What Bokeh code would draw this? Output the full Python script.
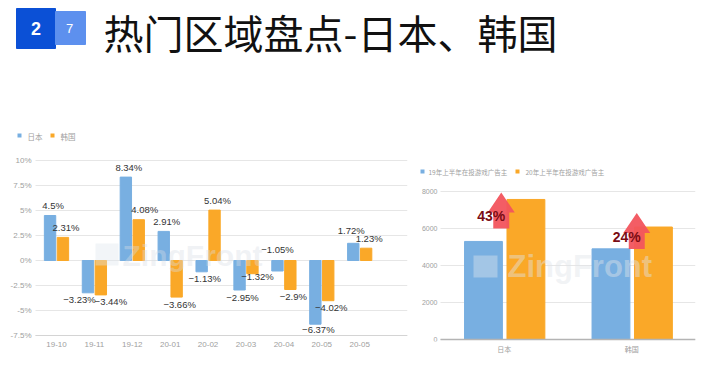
from bokeh.plotting import figure
from bokeh.layouts import column, row
from bokeh.models import (ColumnDataSource, LabelSet, Label, BoxAnnotation,
                          FixedTicker, Range1d, LinearAxis)
from bokeh.embed import file_html
from bokeh.resources import INLINE
from bokeh.core.properties import value

# ---------------- data ----------------
months = ["19-10", "19-11", "19-12", "20-01", "20-02", "20-03", "20-04", "20-05", "20-05"]
japan = [4.5, -3.23, 8.34, 2.91, -1.13, -2.95, -1.05, -6.37, 1.72]
korea = [2.31, -3.44, 4.08, -3.66, 5.04, -1.32, -2.9, -4.02, 1.23]
left_series = ["日本", "韩国"]
left_ticks = [-7.5, -5, -2.5, 0, 2.5, 5, 7.5, 10]
left_tick_labels = ["-7.5%", "-5%", "-2.5%", "0%", "2.5%", "5%", "7.5%", "10%"]

countries = ["日本", "韩国"]
adv_2019 = [5300, 4900]
adv_2020 = [7570, 6080]
growth_labels = ["43%", "24%"]
right_series = ["19年上半年在投游戏广告主", "20年上半年在投游戏广告主"]
right_ticks = [0, 2000, 4000, 6000, 8000]

title_text = "热门区域盘点-日本、韩国"
badge_texts = ["2", "7"]

# ---------------- style ----------------
BLUE = "#78afe1"
ORANGE = "#faa828"
GRID = "#e6e6e6"
TICK_TXT = "#a0a0a0"
NUM = "Liberation Sans"
CJK = "Noto Sans CJK SC"
NUM_FONT = value(NUM)
CJK_FONT = value(CJK)

# shared vertical geometry of the two chart panels (pixels inside each figure)
FIG_H = 256
B_TOP, B_BOT = 5, 35
FRAME_H = FIG_H - B_TOP - B_BOT


def style_axis(ax, size, font, standoff):
    ax.major_tick_line_color = None
    ax.minor_tick_line_color = None
    ax.major_tick_out = 0
    ax.major_tick_in = 0
    ax.axis_line_color = None
    ax.major_label_text_font = font
    ax.major_label_text_font_size = size
    ax.major_label_text_color = TICK_TXT
    ax.major_label_standoff = standoff


# ---------------- header ----------------
hdr = figure(width=708, height=120, x_range=(0, 708), y_range=(120, 0),
             toolbar_location=None, output_backend="svg",
             x_axis_location=None, y_axis_location=None, min_border=0)
hdr.grid.visible = False
hdr.outline_line_color = None
hdr.quad(left=[16], right=[55], top=[8], bottom=[48], color="#0b50d6")
hdr.quad(left=[55], right=[85], top=[11], bottom=[44], color="#5d90ee")
hdr.text(x=[35.5], y=[28], text=[badge_texts[0]], text_align="center", text_baseline="middle",
         text_color="white", text_font=NUM_FONT, text_font_size="18px", text_font_style="bold")
hdr.text(x=[69], y=[28], text=[badge_texts[1]], text_align="center", text_baseline="middle",
         text_color="white", text_font=NUM_FONT, text_font_size="13px")
hdr.text(x=[103], y=[31], text=[title_text], text_align="left", text_baseline="middle",
         text_color="#111111", text_font=CJK_FONT, text_font_size="40px")

# ---------------- left chart ----------------
L_W, L_MR = 410, 3
L_FW = L_W - L_MR                 # frame spans whole width (axis is fixed inside)
L_CAT_PX, L_CAT0 = 37.9, 56.0     # pixels per category, pixel of first category
L_AXIS_PX = 35.0                  # where the value axis sits
L_PER_PX = 0.1                    # % per pixel
L_TOP_TICK_PX = 35.0              # 10% line below frame top

lx0 = (0 - L_CAT0) / L_CAT_PX
lx1 = (L_FW - L_CAT0) / L_CAT_PX
ly1 = left_ticks[-1] + L_TOP_TICK_PX * L_PER_PX
ly0 = ly1 - FRAME_H * L_PER_PX
l_axis_x = (L_AXIS_PX - L_CAT0) / L_CAT_PX

p1 = figure(width=L_W, height=FIG_H, x_range=Range1d(lx0, lx1), y_range=Range1d(ly0, ly1),
            toolbar_location=None, output_backend="svg", y_axis_location=None,
            min_border_left=0, min_border_right=L_MR, min_border_top=B_TOP, min_border_bottom=B_BOT)
p1.outline_line_color = None
p1.grid.visible = False

nt = len(left_ticks)
p1.segment(x0=[l_axis_x] * nt, x1=[lx1] * nt, y0=left_ticks, y1=left_ticks,
           line_color=GRID, line_width=1)
p1.segment(x0=[l_axis_x], x1=[lx1], y0=[left_ticks[0]], y1=[left_ticks[0]],
           line_color="#d4d4d4", line_width=1)

idx = list(range(len(months)))
off, bw = 0.17, 0.30
p1.vbar(x=[i - off for i in idx], top=japan, bottom=0, width=bw, color=BLUE)
p1.vbar(x=[i + off for i in idx], top=korea, bottom=0, width=bw, color=ORANGE)

p1.xaxis.ticker = FixedTicker(ticks=idx)
p1.xaxis.major_label_overrides = {i: m for i, m in zip(idx, months)}
style_axis(p1.xaxis[0], "8px", NUM, 0)

yax1 = LinearAxis(fixed_location=l_axis_x, ticker=FixedTicker(ticks=left_ticks),
                  major_label_overrides={t: s for t, s in zip(left_ticks, left_tick_labels)})
style_axis(yax1, "8px", NUM, 4)
p1.add_layout(yax1, "left")

# data labels (pixel nudges converted to data units)
lpx_x = 1.0 / L_CAT_PX
lpx_y = L_PER_PX
special = {("jp", 1): (-8.5, None), ("kr", 1): (10, None), ("kr", 2): (6, None),
           ("kr", 5): (5, -3), ("jp", 6): (0, "zero"), ("jp", 7): (3, -5),
           ("jp", 8): (-2, 13)}


def fmt(v):
    s = "%g%%" % abs(v)
    return ("\u2212" + s) if v < 0 else s


lab = dict(x=[], y=[], t=[])
for key, vals, sgn in (("jp", japan, -1), ("kr", korea, 1)):
    for i, v in enumerate(vals):
        dx, dy = 3, (10 if v >= 0 else -7)
        base = v
        if (key, i) in special:
            sdx, sdy = special[(key, i)]
            dx = sdx
            if sdy == "zero":
                base, dy = 0, 11
            elif sdy is not None:
                dy = sdy
        lab["x"].append(i + sgn * off + dx * lpx_x)
        lab["y"].append(base + dy * lpx_y)
        lab["t"].append(fmt(v))
p1.add_layout(LabelSet(x="x", y="y", text="t", source=ColumnDataSource(lab),
                       text_align="center", text_baseline="middle", text_font=NUM_FONT,
                       text_font_size="9.5px", text_color="#333333"))

# legend (screen units from frame bottom-left)
for (sq_l, tx_l), name, col in zip([(17, 27), (50, 60)], left_series, [BLUE, ORANGE]):
    p1.add_layout(BoxAnnotation(left=sq_l, right=sq_l + 4, bottom=204, top=208,
                                left_units="screen", right_units="screen",
                                bottom_units="screen", top_units="screen",
                                fill_color=col, fill_alpha=1, line_color=None))
    p1.add_layout(Label(x=tx_l, y=205.5, x_units="screen", y_units="screen", text=name,
                        text_font=CJK, text_font_size="7.5px", text_color=TICK_TXT,
                        text_baseline="middle"))

# watermark
p1.add_layout(BoxAnnotation(left=95, right=118, bottom=76, top=98,
                            left_units="screen", right_units="screen",
                            bottom_units="screen", top_units="screen",
                            fill_color="#dfe6ee", fill_alpha=0.4, line_color=None, level="overlay"))
p1.add_layout(Label(x=122, y=86, x_units="screen", y_units="screen", text="ZingFront",
                    text_font=NUM, text_font_size="30px", text_font_style="bold",
                    text_color="#d8dee6", text_alpha=0.38, text_baseline="middle", level="overlay"))

# ---------------- right chart ----------------
R_W, R_MR = 298, 13
R_FW = R_W - R_MR
R_CAT_PX, R_CAT0 = 127.5, 93.75   # pixels per category, pixel of first category
R_AXIS_PX = 30.0
R_PER_PX = 2000 / 37.0
R_BOT_PX = 2.0                    # zero line above frame bottom

rx0 = (0 - R_CAT0) / R_CAT_PX
rx1 = (R_FW - R_CAT0) / R_CAT_PX
ry0 = -R_BOT_PX * R_PER_PX
ry1 = ry0 + FRAME_H * R_PER_PX
r_axis_x = (R_AXIS_PX - R_CAT0) / R_CAT_PX

p2 = figure(width=R_W, height=FIG_H, x_range=Range1d(rx0, rx1), y_range=Range1d(ry0, ry1),
            toolbar_location=None, output_backend="svg", y_axis_location=None,
            min_border_left=0, min_border_right=R_MR, min_border_top=B_TOP, min_border_bottom=B_BOT)
p2.outline_line_color = None
p2.grid.visible = False

nr = len(right_ticks)
p2.segment(x0=[r_axis_x] * nr, x1=[rx1] * nr, y0=right_ticks, y1=right_ticks,
           line_color=GRID, line_width=1)

cidx = list(range(len(countries)))
p2.vbar(x=[i - 0.163 for i in cidx], top=adv_2019, bottom=0, width=0.297, color=BLUE)
p2.vbar(x=[i + 0.17 for i in cidx], top=adv_2020, bottom=0, width=0.297, color=ORANGE)
p2.segment(x0=[r_axis_x], x1=[rx1], y0=[0], y1=[0], line_color="#b4b4b4", line_width=1.5)

p2.xaxis.ticker = FixedTicker(ticks=cidx)
p2.xaxis.major_label_overrides = {i: c for i, c in zip(cidx, countries)}
style_axis(p2.xaxis[0], "7px", CJK, 2)

yax2 = LinearAxis(fixed_location=r_axis_x, ticker=FixedTicker(ticks=right_ticks))
style_axis(yax2, "7px", NUM, 3)
p2.add_layout(yax2, "left")

# growth arrows
rpx_x = 1.0 / R_CAT_PX
rpx_y = R_PER_PX
arrow_dx = [-3, 5]
arrow_lift = [7, 14]
axs, ays = [], []
gl = dict(x=[], y=[], t=[])
for i in cidx:
    cx = i + arrow_dx[i] * rpx_x
    tip = adv_2020[i] + arrow_lift[i] * rpx_y
    hb = tip - 20 * rpx_y
    bot = tip - 36 * rpx_y
    hw, sw = 13.5 * rpx_x, 8 * rpx_x
    axs.append([cx, cx + hw, cx + sw, cx + sw, cx - sw, cx - sw, cx - hw])
    ays.append([tip, hb, hb, bot, bot, hb, hb])
    gl["x"].append(cx - 10 * rpx_x)
    gl["y"].append(tip - 24 * rpx_y)
    gl["t"].append(growth_labels[i])
p2.patches(xs=axs, ys=ays, fill_color="#f2545d", line_color=None, fill_alpha=0.95)
p2.add_layout(LabelSet(x="x", y="y", text="t", source=ColumnDataSource(gl),
                       text_align="center", text_baseline="middle", text_font=NUM_FONT,
                       text_font_size="14px", text_font_style="bold", text_color="#7a0c14"))

# legend
for (sq_l, tx_l), name, col in zip([(10, 18), (105, 115)], right_series, [BLUE, ORANGE]):
    p2.add_layout(BoxAnnotation(left=sq_l, right=sq_l + 4, bottom=168, top=172,
                                left_units="screen", right_units="screen",
                                bottom_units="screen", top_units="screen",
                                fill_color=col, fill_alpha=1, line_color=None))
    p2.add_layout(Label(x=tx_l, y=169.5, x_units="screen", y_units="screen", text=name,
                        text_font=CJK, text_font_size="6.5px", text_color=TICK_TXT,
                        text_baseline="middle"))

# watermark
p2.add_layout(BoxAnnotation(left=63, right=87, bottom=64, top=86,
                            left_units="screen", right_units="screen",
                            bottom_units="screen", top_units="screen",
                            fill_color="#e4e8ee", fill_alpha=0.4, line_color=None, level="overlay"))
p2.add_layout(Label(x=97, y=75, x_units="screen", y_units="screen", text="ZingFront",
                    text_font=NUM, text_font_size="31px", text_font_style="bold",
                    text_color="#e0e4ea", text_alpha=0.45, text_baseline="middle", level="overlay"))

layout = column(hdr, row(p1, p2, spacing=0), spacing=0)
open("out.html", "w").write(file_html(layout, INLINE))
